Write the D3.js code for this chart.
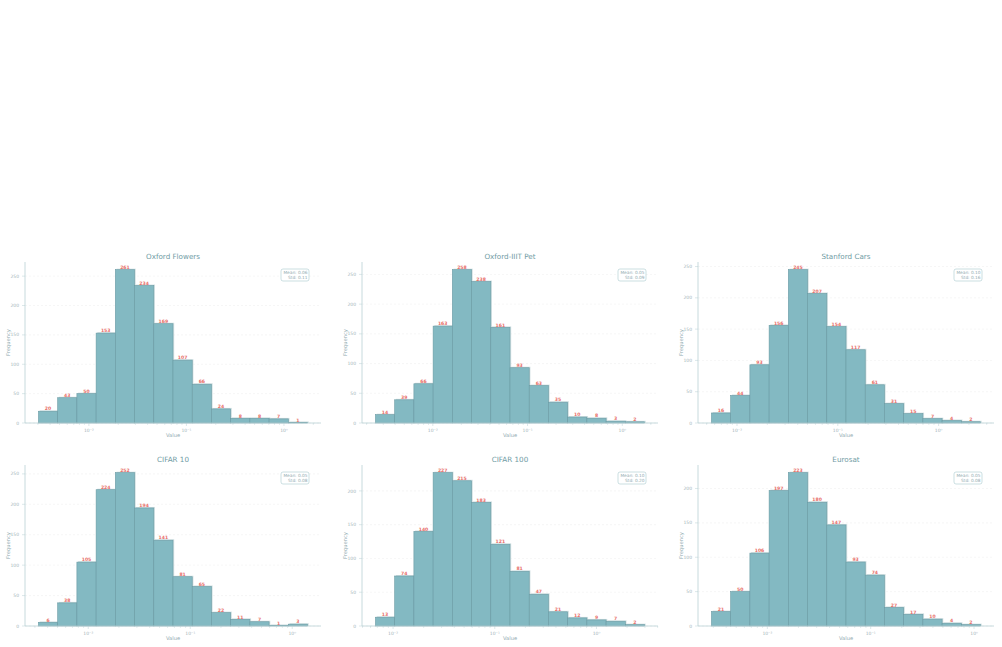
<!DOCTYPE html>
<html lang="en">
<head>
<meta charset="utf-8">
<script src="https://d3js.org/d3.v7.min.js"></script>
<style>
  body { margin: 0; background: #fff; }
  svg { display: block; font-family: "DejaVu Sans", sans-serif; }
</style>
</head>
<body>
<script>
// panel titles, in grid order
var titles = ["Oxford Flowers", "Oxford-IIIT Pet", "Stanford Cars", "CIFAR 10", "CIFAR 100", "Eurosat"];

// bin counts per dataset (14 log-spaced bins each)
var flowersCounts = [20, 43, 50, 153, 261, 234, 169, 107, 66, 24, 8, 8, 7, 1];
var petCounts     = [14, 39, 66, 163, 258, 238, 161, 93, 63, 35, 10, 8, 3, 2];
var carsCounts    = [16, 44, 93, 156, 245, 207, 154, 117, 61, 31, 15, 7, 4, 2];
var cifar10Counts = [6, 38, 105, 224, 252, 194, 141, 81, 65, 22, 11, 7, 1, 3];
var cifar100Counts= [13, 74, 140, 227, 215, 183, 121, 81, 47, 21, 12, 9, 7, 2];
var eurosatCounts = [21, 50, 106, 197, 223, 180, 147, 93, 74, 27, 17, 10, 4, 2];

// min / max value of each dataset (first and last bin edge)
var binRanges = [
  [0.00304, 1.746],
  [0.00248, 1.718],
  [0.00558, 2.606],
  [0.00325, 1.413],
  [0.00671, 2.972],
  [0.00288, 1.156]
];

var means = ["0.06", "0.05", "0.10", "0.05", "0.10", "0.05"];
var stds  = ["0.11", "0.09", "0.16", "0.08", "0.20", "0.08"];

var allCounts = [flowersCounts, petCounts, carsCounts, cifar10Counts, cifar100Counts, eurosatCounts];

var W = 1002, H = 647;
var colLeft = [25, 362, 698], plotW = 296;
var rowTop = [262, 465], plotH = 161;

var barFill = "#83b9c2", barEdge = "#6b9ba4", shadow = "#d3e1e3";
var spine = "#b9d0d4", tickText = "#9fb4b9", titleCol = "#6f9ba4", labelCol = "#8faab0";
var red = "#e8716b";

var svg = d3.select("body").append("svg")
    .attr("width", W)
    .attr("height", H);

var sup = {"-": "\u207b", "0": "\u2070", "1": "\u00b9", "2": "\u00b2", "3": "\u00b3"};
function powLabel(v) {
  var e = Math.round(Math.log10(v)) + "";
  return "10" + e.split("").map(function(c) { return sup[c]; }).join("");
}

titles.forEach(function(title, i) {
  var counts = allCounts[i];
  var lo = Math.log10(binRanges[i][0]), hi = Math.log10(binRanges[i][1]);
  var n = counts.length;
  var edges = d3.range(n + 1).map(function(k) { return Math.pow(10, lo + k * (hi - lo) / n); });
  var pad = 0.05 * (hi - lo);

  var g = svg.append("g")
      .attr("transform", "translate(" + colLeft[i % 3] + "," + rowTop[Math.floor(i / 3)] + ")");

  var x = d3.scaleLog()
      .domain([Math.pow(10, lo - pad), Math.pow(10, hi + pad)])
      .range([0, plotW]);
  var y = d3.scaleLinear()
      .domain([0, d3.max(counts) * 1.05])
      .range([plotH, 0]);

  var yTicks = y.ticks(5);

  // grid
  g.selectAll(".grid").data(yTicks).enter().append("line")
      .attr("x1", 0).attr("x2", plotW)
      .attr("y1", function(d) { return y(d); })
      .attr("y2", function(d) { return y(d); })
      .attr("stroke", "#ececec")
      .attr("stroke-width", 0.5)
      .attr("stroke-dasharray", "2,2");

  var bins = counts.map(function(c, k) { return {c: c, x0: edges[k], x1: edges[k + 1]}; });

  // soft shadow behind bars
  g.selectAll(".shadow").data(bins).enter().append("rect")
      .attr("x", function(d) { return x(d.x0) + 1.2; })
      .attr("y", function(d) { return y(d.c) - 1; })
      .attr("width", function(d) { return x(d.x1) - x(d.x0); })
      .attr("height", function(d) { return plotH - y(d.c) + 1; })
      .attr("fill", shadow);

  g.selectAll(".bar").data(bins).enter().append("rect")
      .attr("x", function(d) { return x(d.x0); })
      .attr("y", function(d) { return y(d.c); })
      .attr("width", function(d) { return x(d.x1) - x(d.x0); })
      .attr("height", function(d) { return plotH - y(d.c); })
      .attr("fill", barFill)
      .attr("stroke", barEdge)
      .attr("stroke-width", 0.6);

  g.selectAll(".val").data(bins).enter().append("text")
      .attr("x", function(d) { return (x(d.x0) + x(d.x1)) / 2; })
      .attr("y", function(d) { return y(d.c) - 0.8; })
      .attr("text-anchor", "middle")
      .attr("font-size", 4.6)
      .attr("font-weight", "bold")
      .attr("fill", red)
      .text(function(d) { return d.c; });

  // spines
  g.append("line").attr("x1", 0).attr("x2", 0).attr("y1", 0).attr("y2", plotH)
      .attr("stroke", spine).attr("stroke-width", 0.8);
  g.append("line").attr("x1", 0).attr("x2", plotW).attr("y1", plotH).attr("y2", plotH)
      .attr("stroke", spine).attr("stroke-width", 0.8);

  // y ticks
  g.selectAll(".yt").data(yTicks).enter().append("line")
      .attr("x1", -3).attr("x2", 0)
      .attr("y1", function(d) { return y(d); }).attr("y2", function(d) { return y(d); })
      .attr("stroke", spine).attr("stroke-width", 0.5);
  g.selectAll(".yl").data(yTicks).enter().append("text")
      .attr("x", -6)
      .attr("y", function(d) { return y(d) + 1.6; })
      .attr("text-anchor", "end")
      .attr("font-size", 4.5)
      .attr("fill", tickText)
      .text(function(d) { return d; });

  // x ticks (log, with minors)
  var xt = x.ticks();
  var major = xt.filter(function(v) { return Math.abs(Math.log10(v) - Math.round(Math.log10(v))) < 1e-9; });
  g.selectAll(".xt").data(xt).enter().append("line")
      .attr("x1", function(d) { return x(d); }).attr("x2", function(d) { return x(d); })
      .attr("y1", plotH)
      .attr("y2", function(d) { return major.indexOf(d) >= 0 ? plotH + 3 : plotH + 1.8; })
      .attr("stroke", spine).attr("stroke-width", 0.5);
  g.selectAll(".xl").data(major).enter().append("text")
      .attr("x", function(d) { return x(d); })
      .attr("y", plotH + 9)
      .attr("text-anchor", "middle")
      .attr("font-size", 4.5)
      .attr("fill", tickText)
      .text(powLabel);

  // labels
  g.append("text")
      .attr("x", plotW / 2).attr("y", -3)
      .attr("text-anchor", "middle")
      .attr("font-size", 7.2)
      .attr("fill", titleCol)
      .text(title);
  g.append("text")
      .attr("x", plotW / 2).attr("y", plotH + 14)
      .attr("text-anchor", "middle")
      .attr("font-size", 5.2)
      .attr("fill", labelCol)
      .text("Value");
  g.append("text")
      .attr("transform", "translate(-15," + (plotH / 2) + ") rotate(-90)")
      .attr("text-anchor", "middle")
      .attr("font-size", 5.2)
      .attr("fill", labelCol)
      .text("Frequency");

  // stats box
  var bx = plotW - 40, by = 7, bw = 28, bh = 12;
  g.append("rect")
      .attr("x", bx).attr("y", by).attr("width", bw).attr("height", bh)
      .attr("rx", 2).attr("ry", 2)
      .attr("fill", "#fff")
      .attr("stroke", "#a9c9ce")
      .attr("stroke-width", 0.6);
  g.append("text")
      .attr("x", bx + bw - 1.5).attr("y", by + 5)
      .attr("text-anchor", "end")
      .attr("font-size", 4.3)
      .attr("fill", labelCol)
      .text("Mean: " + means[i]);
  g.append("text")
      .attr("x", bx + bw - 1.5).attr("y", by + 10)
      .attr("text-anchor", "end")
      .attr("font-size", 4.3)
      .attr("fill", labelCol)
      .text("Std: " + stds[i]);
});
</script>
</body>
</html>
